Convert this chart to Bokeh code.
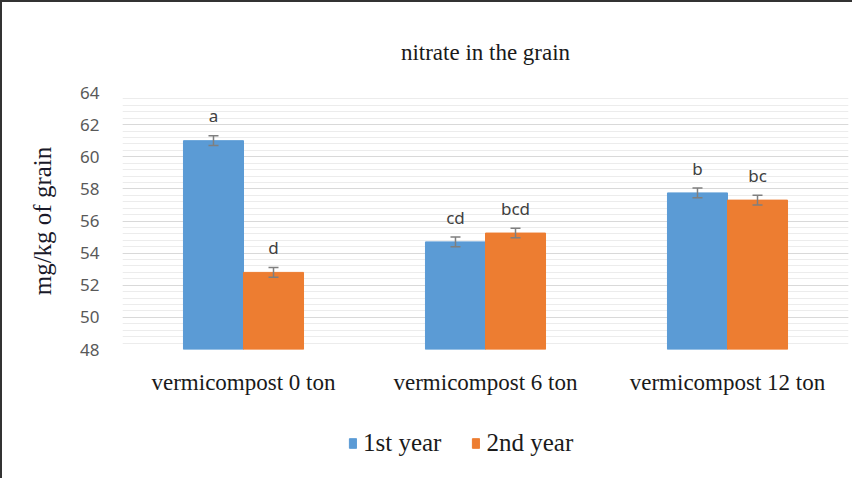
from bokeh.plotting import figure
from bokeh.models import (ColumnDataSource, FactorRange, Whisker, TeeHead, Legend,
                          LegendItem, FixedTicker, Range1d)
from bokeh.layouts import column
from bokeh.transform import dodge
from bokeh.core.properties import value
from bokeh.embed import file_html
from bokeh.resources import INLINE

categories = ["vermicompost 0 ton", "vermicompost 6 ton", "vermicompost 12 ton"]
year1 = [61.0, 54.7, 57.75]
year2 = [52.8, 55.25, 57.3]
err1 = [0.3, 0.3, 0.3]
err2 = [0.3, 0.3, 0.3]
letters1 = ["a", "cd", "b"]
letters2 = ["d", "bcd", "bc"]
series_names = ["1st year", "2nd year"]
y_ticks = [48, 50, 52, 54, 56, 58, 60, 62, 64]

BLUE = "#5B9BD5"
ORANGE = "#ED7D31"

src = ColumnDataSource(dict(
    cat=categories,
    y1=year1, y2=year2,
    lo1=[v - e for v, e in zip(year1, err1)], hi1=[v + e for v, e in zip(year1, err1)],
    lo2=[v - e for v, e in zip(year2, err2)], hi2=[v + e for v, e in zip(year2, err2)],
    l1=letters1, l2=letters2,
))

p = figure(width=850, height=408, output_backend="svg", toolbar_location=None,
           x_range=FactorRange(factors=categories, range_padding=0),
           y_range=Range1d(48, 64),
           min_border_left=120, min_border_right=4, min_border_top=90,
           min_border_bottom=61)
p.outline_line_color = None
p.background_fill_color = "white"
p.border_fill_color = "white"

# Title
p.title.text = "nitrate in the grain"
p.title.text_font = "Liberation Serif"
p.title.text_font_size = "23px"
p.title.text_font_style = "normal"
p.title.text_color = "#1a1a1a"
p.title.align = "center"
p.title.standoff = 55

bw = 0.248
r1 = p.vbar(x=dodge("cat", -bw / 2, range=p.x_range), top="y1", bottom=48, width=bw,
            source=src, fill_color=BLUE, line_color=BLUE)
r2 = p.vbar(x=dodge("cat", bw / 2, range=p.x_range), top="y2", bottom=48, width=bw,
            source=src, fill_color=ORANGE, line_color=ORANGE)

for off, lo, hi in [(-bw / 2, "lo1", "hi1"), (bw / 2, "lo2", "hi2")]:
    w = Whisker(base=dodge("cat", off, range=p.x_range), lower=lo, upper=hi, source=src,
                line_color="#7f7f7f", line_width=1.5, level="overlay",
                upper_head=TeeHead(size=10, line_color="#7f7f7f", line_width=1.5),
                lower_head=TeeHead(size=10, line_color="#7f7f7f", line_width=1.5))
    p.add_layout(w)

for off, hi, lab in [(-bw / 2, "hi1", "l1"), (bw / 2, "hi2", "l2")]:
    p.text(x=dodge("cat", off, range=p.x_range), y=hi, text=lab, source=src,
           text_align="center", text_baseline="alphabetic", y_offset=-20,
           text_font=value("Noto Sans"), text_font_size="17px", text_color="#404040")

# Y axis
p.yaxis.ticker = FixedTicker(ticks=y_ticks, minor_ticks=[48 + 0.4 * i for i in range(41)])
p.yaxis.axis_line_color = None
p.yaxis.major_tick_line_color = None
p.yaxis.minor_tick_line_color = None
p.yaxis.major_label_text_font = "Noto Sans"
p.yaxis.major_label_text_font_size = "17px"
p.yaxis.major_label_text_color = "#595959"
p.yaxis.major_label_standoff = 17
p.yaxis.axis_label = "mg/kg of grain"
p.yaxis.axis_label_text_font = "Liberation Serif"
p.yaxis.axis_label_text_font_size = "25px"
p.yaxis.axis_label_text_font_style = "normal"
p.yaxis.axis_label_text_color = "#1a1a2a"
p.yaxis.axis_label_standoff = 21

p.ygrid.grid_line_color = "#d9d9d9"
p.ygrid.grid_line_width = 1
p.ygrid.minor_grid_line_color = "#ececec"
p.ygrid.minor_grid_line_width = 1
p.xgrid.grid_line_color = None

# X axis
p.xaxis.axis_line_color = None
p.xaxis.major_tick_line_color = None
p.xaxis.minor_tick_line_color = None
p.xaxis.major_label_text_font = "Liberation Serif"
p.xaxis.major_label_text_font_size = "23px"
p.xaxis.major_label_text_color = "#1a1a1a"
p.xaxis.major_label_standoff = 14

# Legend strip (separate figure so the legend is not clipped by the plot frame);
# its bars use the same data but fall outside this strip's y range.
pl = figure(width=850, height=68, output_backend="svg", toolbar_location=None,
            x_range=FactorRange(factors=categories, range_padding=0),
            y_range=Range1d(100, 101),
            x_axis_location=None, y_axis_location=None,
            min_border_left=0, min_border_right=0, min_border_top=0, min_border_bottom=0)
pl.outline_line_color = None
pl.grid.visible = False
d1 = pl.vbar(x="cat", top="y1", bottom=48, width=0.2, source=src,
             fill_color=BLUE, line_color=BLUE)
d2 = pl.vbar(x="cat", top="y2", bottom=48, width=0.2, source=src,
             fill_color=ORANGE, line_color=ORANGE)

legend = Legend(items=[LegendItem(label=series_names[0], renderers=[d1]),
                       LegendItem(label=series_names[1], renderers=[d2])],
                orientation="horizontal", location=(226, 21),
                label_text_font="Liberation Serif", label_text_font_size="25px",
                label_text_color="#1a1a1a", glyph_width=9, glyph_height=12,
                spacing=30, label_standoff=6, border_line_color=None,
                background_fill_alpha=0, margin=0, padding=4)
pl.add_layout(legend)

layout = column(p, pl, spacing=0)
layout.styles = {"border-left": "2px solid #333333", "border-top": "2px solid #333333"}
open("out.html", "w").write(file_html(layout, INLINE))
